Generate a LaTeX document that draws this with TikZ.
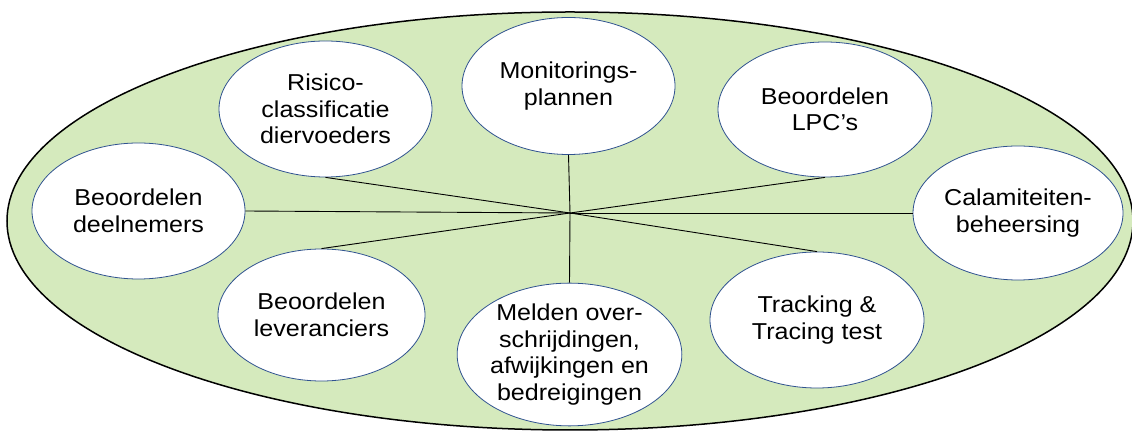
\documentclass[tikz,border=0pt]{standalone}
\usepackage{fontspec}
\setmainfont{Liberation Sans}[FakeStretch=1.09]
\usetikzlibrary{shapes.geometric}
\definecolor{biggreen}{HTML}{D5EABD}
\definecolor{rimblue}{HTML}{2F528F}
\tikzset{
  item/.style={ellipse, draw=rimblue, line width=0.8pt, fill=white, inner sep=0pt,
    align=center, font=\fontsize{23}{26.5}\selectfont},
  spoke/.style={draw=black, line width=0.9pt}
}
\begin{document}
\begin{tikzpicture}[x=1pt,y=1pt]
\useasboundingbox (0,0) rectangle (1132,433);
\fill[white] (0,0) rectangle (1132,433);
\node[ellipse, draw=black, line width=1.5pt, fill=biggreen, minimum width=1126pt, minimum height=418pt, inner sep=0pt] (outer) at (570,212) {};
\coordinate (hub) at (570,220);
\node[item, minimum width=213pt, minimum height=136pt] (ris) at (325.5,324) {Risico-\\classificatie\\diervoeders};
\node[item, minimum width=213pt, minimum height=137pt] (mon) at (568.5,347) {Monitorings-\\plannen};
\node[item, minimum width=214pt, minimum height=135pt] (lpc) at (825,323.5) {Beoordelen\\LPC’s};
\node[item, minimum width=213pt, minimum height=136pt] (dee) at (138.5,222) {Beoordelen\\deelnemers};
\node[item, minimum width=210pt, minimum height=134pt] (cal) at (1018,220) {Calamiteiten-\\beheersing};
\node[item, minimum width=207pt, minimum height=132pt] (lev) at (321.5,118) {Beoordelen\\leveranciers};
\node[item, minimum width=215pt, minimum height=137pt] (mel) at (569.5,78.5) {Melden over-\\schrijdingen,\\afwijkingen en\\bedreigingen};
\node[item, minimum width=214pt, minimum height=136pt] (tra) at (817,113) {Tracking \&\\Tracing test};
\draw[spoke] (hub) -- (ris.south);
\draw[spoke] (hub) -- (mon.south);
\draw[spoke] (hub) -- (lpc.south);
\draw[spoke] (hub) -- (dee.east);
\draw[spoke] (hub) -- (cal.west);
\draw[spoke] (hub) -- (lev.north);
\draw[spoke] (hub) -- (mel.north);
\draw[spoke] (hub) -- (tra.north);
\end{tikzpicture}
\end{document}
